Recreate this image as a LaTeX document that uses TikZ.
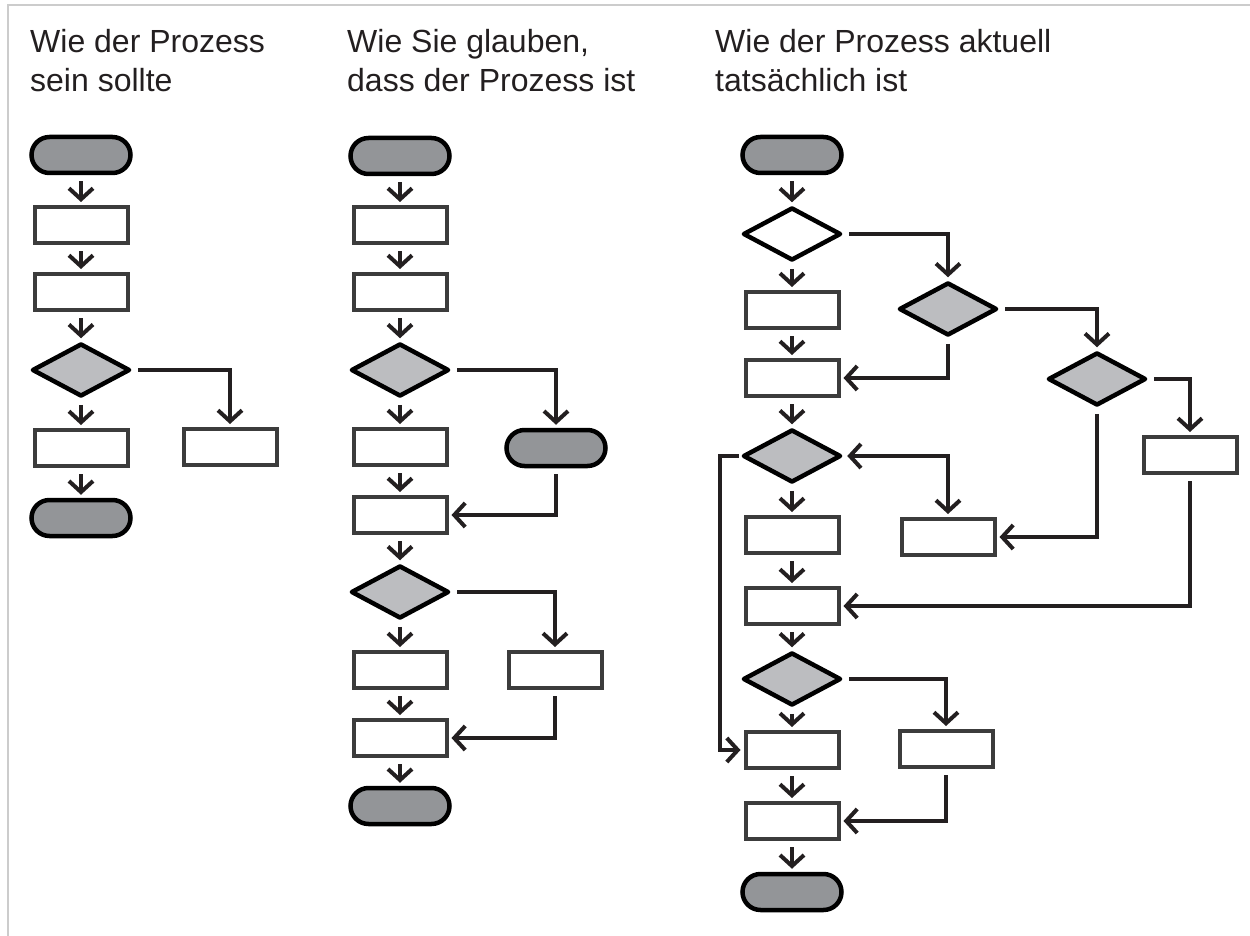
\documentclass[tikz,border=0pt]{standalone}
\usepackage{fontspec}
\setmainfont{Liberation Sans}
\usetikzlibrary{shapes.geometric, arrows.meta}

\definecolor{termgray}{HTML}{939598}
\definecolor{choicegray}{HTML}{BCBDC0}
\definecolor{boxgray}{HTML}{3C3C3C}
\definecolor{framegray}{HTML}{CCCCCC}
\definecolor{inkcol}{HTML}{231F20}

\begin{document}
\begin{tikzpicture}[x=1pt, y=-1pt,
    term/.style={draw=black, fill=termgray, line width=4.5pt, rounded corners=18pt,
      minimum width=99pt, minimum height=36pt, inner sep=0pt},
    box/.style={draw=boxgray, fill=white, line width=4pt,
      minimum width=93pt, minimum height=36pt, inner sep=0pt},
    choice/.style={diamond, draw=black, fill=choicegray, line width=4.5pt, line join=round,
      minimum width=98pt, minimum height=53pt, inner sep=0pt},
    flow/.style={draw=inkcol, line width=4pt, -{Straight Barb[length=11pt,width=24pt]},
      shorten <=6pt, shorten >=3pt},
    title/.style={anchor=north west, align=left, inner sep=0pt, text=inkcol,
      font=\fontsize{32}{39}\selectfont}]

  % Fix the canvas
  \useasboundingbox (0,0) rectangle (1250,936);

  % Draw the frame
  \draw[framegray, line width=2pt] (8,936) -- (8,5) -- (1250,5);

  % Add titles
  \node[title] (t1) at (30,29) {Wie der Prozess\\sein sollte};
  \node[title] (t2) at (347,29) {Wie Sie glauben,\\dass der Prozess ist};
  \node[title] (t3) at (715,29) {Wie der Prozess aktuell\\tatsächlich ist};

  % First chart
  \node[term] (a0) at (81,155) {};
  \node[box] (a1) at (81,225) {};
  \node[box] (a2) at (81,292) {};
  \node[choice] (a3) at (81,370) {};
  \node[box] (a4) at (81,448) {};
  \node[box] (a5) at (230,447) {};
  \node[term] (a6) at (81,518) {};
  \foreach \p/\q in {a0/a1, a1/a2, a2/a3, a3/a4, a4/a6}
    \draw[flow] (\p) -- (\q);
  \draw[flow] (a3.east) -| (a5.north);

  % Second chart
  \node[term] (b0) at (400,156) {};
  \node[box] (b1) at (400,225) {};
  \node[box] (b2) at (400,292) {};
  \node[choice] (b3) at (400,370) {};
  \node[box] (b4) at (400,447) {};
  \node[term] (b5) at (556,448) {};
  \node[box] (b6) at (400,515) {};
  \node[choice] (b7) at (400,592) {};
  \node[box] (b8) at (400,670) {};
  \node[box] (b9) at (555,670) {};
  \node[box] (b10) at (400,738) {};
  \node[term] (b11) at (400,806) {};
  \foreach \p/\q in {b0/b1, b1/b2, b2/b3, b3/b4, b4/b6, b6/b7, b7/b8, b8/b10, b10/b11}
    \draw[flow] (\p) -- (\q);
  \draw[flow] (b3.east) -| (b5.north);
  \draw[flow] (b5.south) |- (b6.east);
  \draw[flow] (b7.east) -| (b9.north);
  \draw[flow] (b9.south) |- (b10.east);

  % Third chart
  \node[term] (c0) at (792,155) {};
  \node[choice, fill=white] (c1) at (792,234) {};
  \node[box] (c2) at (792,310) {};
  \node[box] (c3) at (792,378) {};
  \node[choice] (c4) at (792,456) {};
  \node[box] (c5) at (792,535) {};
  \node[box] (c6) at (792,606) {};
  \node[choice] (c7) at (792,679) {};
  \node[box] (c8) at (792,750) {};
  \node[box] (c9) at (792,821) {};
  \node[term] (c10) at (792,892) {};
  \node[choice] (d1) at (948,309) {};
  \node[choice] (d2) at (1097,379) {};
  \node[box] (d3) at (1190,455) {};
  \node[box] (d4) at (948,537) {};
  \node[box] (d5) at (946,749) {};
  \foreach \p/\q in {c0/c1, c1/c2, c2/c3, c3/c4, c4/c5, c5/c6, c6/c7, c7/c8, c8/c9, c9/c10}
    \draw[flow] (\p) -- (\q);
  \draw[flow] (c1.east) -| (d1.north);
  \draw[flow] (d1.south) |- (c3.east);
  \draw[flow] (d1.east) -| (d2.north);
  \draw[flow] (d2.east) -| (d3.north);
  \draw[flow] (d2.south) |- (d4.east);
  \draw[flow, {Straight Barb[length=11pt,width=24pt]}-{Straight Barb[length=11pt,width=24pt]},
    shorten <=4pt] (c4.east) -| (d4.north);
  \draw[flow, shorten <=2pt] (c4.west) -- ++(-21,0) |- (c8.west);
  \draw[flow] (d3.south) |- (c6.east);
  \draw[flow] (c7.east) -| (d5.north);
  \draw[flow] (d5.south) |- (c9.east);
\end{tikzpicture}
\end{document}
